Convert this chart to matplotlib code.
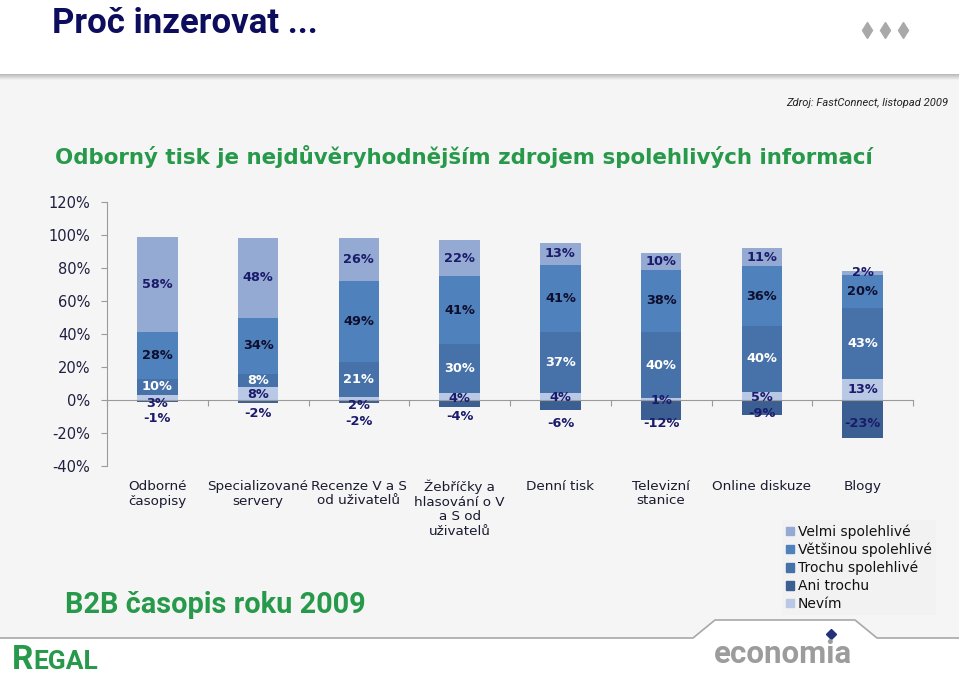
"""Slide 'Proč inzerovat ...' - stacked reliability bars per media type."""
import matplotlib
matplotlib.use("Agg")
import matplotlib.pyplot as plt
from matplotlib.patches import Rectangle, Polygon, Patch
from matplotlib.transforms import blended_transform_factory
import numpy as np

W, H = 959, 676

categories = ["Odborné\nčasopisy", "Specializované\nservery", "Recenze V a S\nod uživatelů",
              "Žebříčky a\nhlasování o V\na S od\nuživatelů", "Denní tisk",
              "Televizní\nstanice", "Online diskuze", "Blogy"]
velmi = [58, 48, 26, 22, 13, 10, 11, 2]
vetsinou = [28, 34, 49, 41, 41, 38, 36, 20]
trochu = [10, 8, 21, 30, 37, 40, 40, 43]
nevim = [3, 8, 2, 4, 4, 1, 5, 13]
ani = [-1, -2, -2, -4, -6, -12, -9, -23]
yticks = [-40, -20, 0, 20, 40, 60, 80, 100, 120]

# hand-placed label heights (in %) for the thin segments, as on the slide
nevim_label_y = [-1.9, 3.6, -3.6, 1.2, 1.8, -0.5, 1.8, 6.5]
ani_label_y = [-11.5, -8.4, -13.3, -10.3, -14, -14, -8, -14]

C_VELMI, C_VETS, C_TROCHU, C_ANI, C_NEVIM = "#95aad3", "#4f81bd", "#4672a9", "#3c5f93", "#b9c8e4"
NAVY, DARK = "#1b1b6b", "#0f0f2d"
GREEN = "#27994a"
BG = "#f5f5f5"
NARROW = ["Roboto", "DejaVu Sans"]


def fx(x):
    return x / W


def fy(y):
    return 1 - y / H


fig = plt.figure(figsize=(W / 100, H / 100), dpi=100, facecolor=BG)

# ---- slide decoration --------------------------------------------------
fig.patches.append(Rectangle((0, fy(74)), 1, 74 / H, transform=fig.transFigure,
                             facecolor="white", edgecolor="none", zorder=0))
for i, c in enumerate(["#bcbcbc", "#c6c6c6", "#d0d0d0", "#dadada", "#e4e4e4", "#eeeeee"]):
    fig.patches.append(Rectangle((0, fy(75 + i)), 1, 1 / H, transform=fig.transFigure,
                                 facecolor=c, edgecolor="none", zorder=0))
foot = [(0, 638), (693, 638), (715, 620), (855, 620), (877, 638), (959, 638), (959, 676), (0, 676)]
fig.patches.append(Polygon([(fx(x), fy(y)) for x, y in foot], closed=True, transform=fig.transFigure,
                           facecolor="white", edgecolor="none", zorder=0))
fig.lines.append(plt.Line2D([fx(x) for x, y in foot[:6]], [fy(y) for x, y in foot[:6]],
                            transform=fig.transFigure, color="#a8a8a8", lw=1.2))

fig.text(fx(52), fy(33), "Proč inzerovat ...", fontsize=25, fontweight="bold", color="#0d0d5e",
         family=NARROW, va="baseline", ha="left")
fig.lines.append(plt.Line2D([fx(867), fx(885), fx(903)], [fy(30)] * 3, transform=fig.transFigure,
                            ls="none", marker="d", ms=8, color="#a9a9a9"))
fig.text(fx(948), fy(103), "Zdroj: FastConnect, listopad 2009", fontsize=8, style="italic",
         color="#222222", family=NARROW, ha="right", va="center")
fig.text(fx(55), fy(156), "Odborný tisk je nejdůvěryhodnějším zdrojem spolehlivých informací",
         fontsize=15.4, fontweight="bold", color=GREEN, ha="left", va="center")
fig.text(fx(65), fy(605), "B2B časopis roku 2009", fontsize=20.8, fontweight="bold", color=GREEN,
         family=NARROW, ha="left", va="center")
fig.text(fx(12), fy(669), "R", fontsize=24, fontweight="bold", color=GREEN,
         family=NARROW, ha="left", va="baseline")
fig.text(fx(33), fy(669), "EGAL", fontsize=19, fontweight="bold", color=GREEN,
         family=NARROW, ha="left", va="baseline")
fig.text(fx(783), fy(663), "economia", fontsize=22.5, fontweight="bold", color="#9c9c9c",
         family=NARROW, ha="center", va="baseline")
fig.lines.append(plt.Line2D([fx(831)], [fy(634)], transform=fig.transFigure,
                            ls="none", marker="D", ms=5.5, color="#23307a"))

# ---- chart ---------------------------------------------------------------
ax = fig.add_axes([fx(107), fy(466), (913 - 107) / W, (466 - 202) / H])
ax.set_facecolor("none")
x = np.arange(len(categories))
bw = 0.4

b_nev = np.array(nevim)
b_tro = b_nev + np.array(trochu)
b_vet = b_tro + np.array(vetsinou)
ax.bar(x, nevim, bw, bottom=0, color=C_NEVIM, label="Nevím", zorder=2)
ax.bar(x, trochu, bw, bottom=b_nev, color=C_TROCHU, label="Trochu spolehlivé", zorder=2)
ax.bar(x, vetsinou, bw, bottom=b_tro, color=C_VETS, label="Většinou spolehlivé", zorder=2)
ax.bar(x, velmi, bw, bottom=b_vet, color=C_VELMI, label="Velmi spolehlivé", zorder=2)
ax.bar(x, ani, bw, bottom=0, color=C_ANI, label="Ani trochu", zorder=2)

lab = dict(fontsize=9.3, fontweight="bold", ha="center", va="center", zorder=4)
for i in range(len(categories)):
    ax.text(i, b_vet[i] + velmi[i] / 2, f"{velmi[i]}%", color=NAVY, **lab)
    ax.text(i, b_tro[i] + vetsinou[i] / 2, f"{vetsinou[i]}%", color=DARK, **lab)
    ax.text(i, b_nev[i] + trochu[i] / 2, f"{trochu[i]}%", color="white", **lab)
    ax.text(i, nevim_label_y[i], f"{nevim[i]}%", color=NAVY, **lab)
    ax.text(i, ani_label_y[i], f"{ani[i]}%", color=NAVY, **lab)

ax.set_xlim(-0.5, len(categories) - 0.5)
ax.set_ylim(-40, 120)
ax.set_yticks(yticks)
ax.set_yticklabels([f"{v}%" for v in yticks], fontsize=10.5, color="#1f1f40")
ax.tick_params(axis="y", length=4, width=0.8, color="#9a9a9a", pad=8)
for s in ("top", "right"):
    ax.spines[s].set_visible(False)
ax.spines["left"].set_color("#9a9a9a")
ax.spines["bottom"].set_position(("data", 0))
ax.spines["bottom"].set_color("#9a9a9a")
ax.set_xticks(x)
ax.set_xticklabels([])
ax.tick_params(axis="x", which="major", length=0)
ax.set_xticks(np.arange(len(categories) + 1) - 0.5, minor=True)
ax.tick_params(axis="x", which="minor", length=4, width=0.8, color="#9a9a9a", direction="out")

tr = blended_transform_factory(ax.transData, fig.transFigure)
for i, c in enumerate(categories):
    ax.text(i, fy(480), c, transform=tr, fontsize=9.7, color="#1a1a30", ha="center", va="top",
            linespacing=1.15)

handles = [Patch(color=c) for c in (C_VELMI, C_VETS, C_TROCHU, C_ANI, C_NEVIM)]
labels = ["Velmi spolehlivé", "Většinou spolehlivé", "Trochu spolehlivé", "Ani trochu", "Nevím"]
leg = fig.legend(handles, labels, loc="upper left", bbox_to_anchor=(fx(782), fy(520)),
                 fontsize=10, frameon=True, facecolor="#f2f2f2", edgecolor="none", fancybox=False,
                 handlelength=0.55, handleheight=0.55, handletextpad=0.3, labelspacing=0.28,
                 borderpad=0.3, borderaxespad=0)
for t in leg.get_texts():
    t.set_color("#111111")

fig.savefig("out.png", dpi=100, facecolor=fig.get_facecolor())
